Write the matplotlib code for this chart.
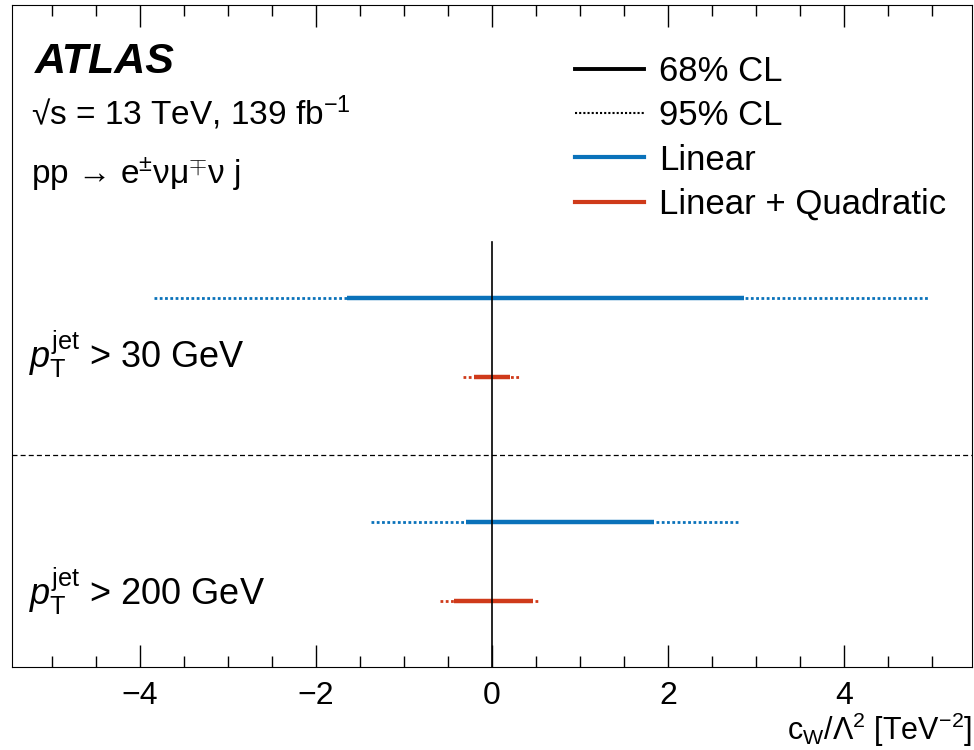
import matplotlib.pyplot as plt
from matplotlib.lines import Line2D

plt.rcParams['font.family'] = ['Liberation Sans', 'DejaVu Sans']
plt.rcParams['mathtext.fontset'] = 'custom'
plt.rcParams['mathtext.rm'] = 'Liberation Sans'
plt.rcParams['mathtext.it'] = 'Liberation Sans:italic'

# intervals on c_W / Lambda^2 [TeV^-2]
regions = ['30', '200']
lin_68 = [(-1.65, 2.86), (-0.29, 1.84)]
lin_95 = [(-3.84, 4.96), (-1.37, 2.81)]
quad_68 = [(-0.20, 0.20), (-0.43, 0.47)]
quad_95 = [(-0.33, 0.33), (-0.59, 0.54)]

blue = '#0a72ba'
red = '#cf3a1a'

def main():
	fig = plt.figure(figsize=(9.74, 7.5), dpi=100)
	ax = fig.add_axes([0.0123, 0.1107, 0.9857, 0.8826])
	ax.set_xlim(-5.45, 5.45)
	ax.set_ylim(0, 10)

	ypos_lin = [5.57, 2.19]
	ypos_quad = [4.38, 1.0]
	ypos_lab = [4.72, 1.15]
	dots = (0, (1, 0.9))
	for i in range(len(regions)):
		ax.plot(lin_95[i], [ypos_lin[i]] * 2, color=blue, lw=2, linestyle=dots)
		ax.plot(lin_68[i], [ypos_lin[i]] * 2, color=blue, lw=3.2, solid_capstyle='butt')
		ax.plot(quad_95[i], [ypos_quad[i]] * 2, color=red, lw=2, linestyle=dots)
		ax.plot(quad_68[i], [ypos_quad[i]] * 2, color=red, lw=3.2, solid_capstyle='butt')
		ax.text(-5.26, ypos_lab[i], r'$p_{\mathrm{T}}^{\mathrm{jet}}$ > ' + regions[i] + ' GeV',
			fontsize=26, va='center', ha='left')

	ax.plot([0, 0], [0, 6.42], color='black', lw=1.2)
	ax.axhline(3.2, color='black', lw=0.9, linestyle=(0, (4, 2.5)))

	ax.text(0.024, 0.914, 'ATLAS', transform=ax.transAxes, fontsize=31,
		fontweight='bold', fontstyle='italic', va='center')
	ax.text(0.02, 0.838, '\u221as = 13 TeV, 139 fb$^{\\mathrm{-1}}$', transform=ax.transAxes,
		fontsize=24, va='center')
	ax.text(0.02, 0.745, 'pp \u2192 e$^{\\pm}$\u03bd\u03bc$^{\\mp}$\u03bd j', transform=ax.transAxes,
		fontsize=24, va='center')

	handles = [
		Line2D([], [], color='black', lw=2.8),
		Line2D([], [], color='black', lw=1.5, linestyle=(0, (1, 1))),
		Line2D([], [], color=blue, lw=3),
		Line2D([], [], color=red, lw=3),
	]
	labels = ['68% CL', '95% CL', 'Linear', 'Linear + Quadratic']
	ax.legend(handles, labels, loc='upper left', frameon=False, fontsize=25,
		handlelength=2.0, handletextpad=0.43, labelspacing=0.33,
		bbox_to_anchor=(0.586, 0.925), borderaxespad=0, borderpad=0)

	ax.set_yticks([])
	ax.set_xticks([-4, -2, 0, 2, 4])
	ax.set_xticklabels(['\u22124', '\u22122', '0', '2', '4'])
	ax.set_xticks([x * 0.5 for x in range(-10, 11)], minor=True)
	ax.tick_params(axis='x', which='major', direction='in', length=16, width=1,
		top=True, labelsize=23, pad=10)
	ax.tick_params(axis='x', which='minor', direction='in', length=8, width=1, top=True)
	ax.set_xlabel('c$_{\\mathrm{W}}$/\u039b$^{2}$ [TeV$^{\\mathrm{-2}}$]', fontsize=22,
		loc='right', labelpad=0)

	fig.savefig('out.png', dpi=100)

if __name__ == '__main__':
	main()
